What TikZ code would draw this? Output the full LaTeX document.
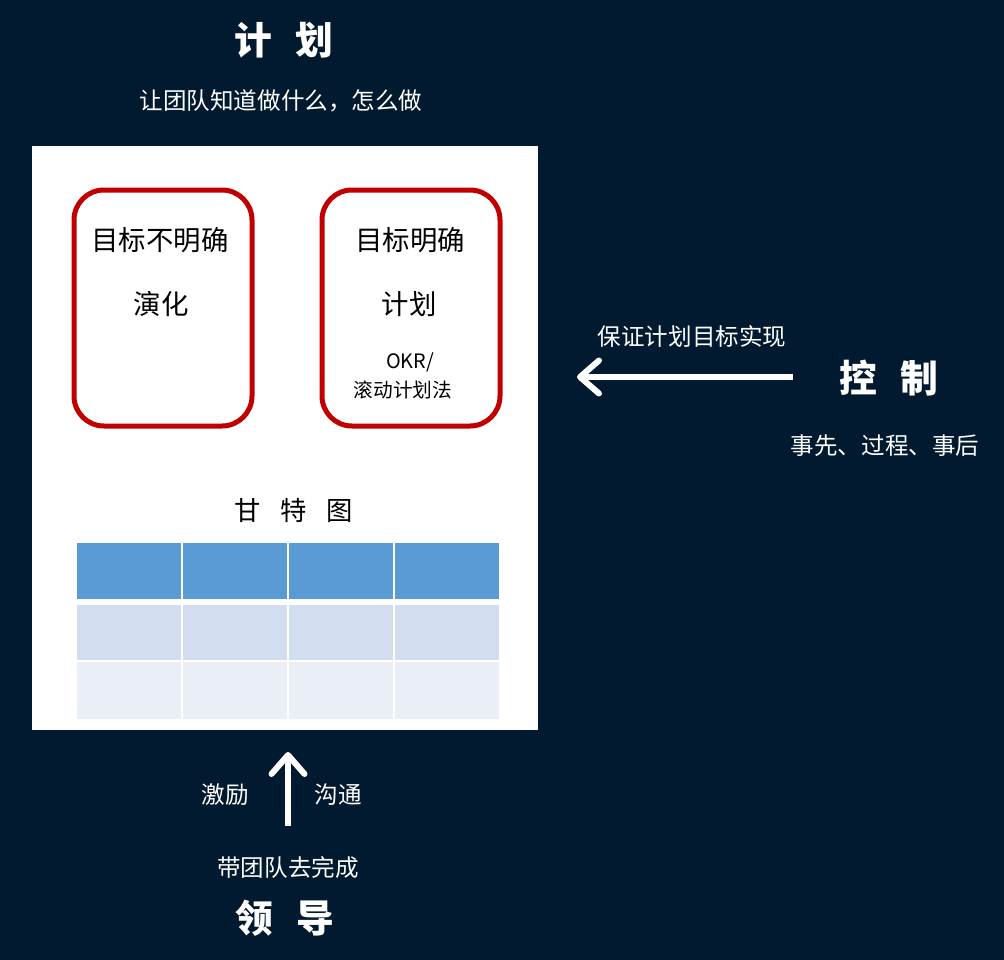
\documentclass[tikz,border=0pt]{standalone}
\usepackage{fontspec}
\setmainfont{Noto Sans CJK SC}
\usetikzlibrary{arrows.meta}
\definecolor{navy}{HTML}{021A30}
\definecolor{boxred}{HTML}{C00000}
\definecolor{ganttA}{HTML}{5B9BD5}
\definecolor{ganttB}{HTML}{D2DEEF}
\definecolor{ganttC}{HTML}{EAEFF7}
\tikzset{
  title/.style={text=white,font=\bfseries\fontsize{21.5}{24}\selectfont},
  note/.style={text=white,font=\fontsize{13.4}{16}\selectfont},
  boxtext/.style={text=black,font=\fontsize{15.6}{18}\selectfont},
  goalbox/.style={draw=boxred,line width=0.1cm,rounded corners=0.6cm},
  bigarrow/.style={draw=white,line width=0.12cm,-{Straight Barb[length=0.38cm,width=0.66cm,round]}}
}
\begin{document}
\begin{tikzpicture}[x=0.02cm,y=-0.02cm]
  \fill[navy] (0,0) rectangle (1004,960);
  \useasboundingbox (0,0) rectangle (1004,960);

  % plan
  \node[title] (plan) at (284,40) {计\hspace{0.6em}划};
  \node[note] (plansub) at (281,101) {让团队知道做什么，怎么做};
  \fill[white] (32,146) rectangle (538,730);

  \draw[goalbox] (74,190) rectangle (252,426);
  \draw[goalbox] (322,190) rectangle (500,426);
  \node[boxtext] (unclear) at (160,240) {目标不明确};
  \node[boxtext] (evolve) at (161,304) {演化};
  \node[boxtext] (clear) at (410,240) {目标明确};
  \node[boxtext] (plan2) at (409,304) {计划};
  \node[text=black,font=\fontsize{11.3}{13}\selectfont] (okr) at (410,362) {OKR/};
  \node[text=black,font=\fontsize{11.2}{13}\selectfont] (rolling) at (403,390) {滚动计划法};

  % gantt
  \node[boxtext,font=\fontsize{15}{18}\selectfont] (gantt) at (294,510) {甘\hspace{0.75em}特\hspace{0.75em}图};
  \foreach \c in {0,1,2,3} {
    \fill[ganttA] (77+106*\c,543) rectangle ++(104,56);
    \fill[ganttB] (77+106*\c,605) rectangle ++(104,55);
    \fill[ganttC] (77+106*\c,662) rectangle ++(104,57);
  }

  % control
  \node[title] (control) at (889,378) {控\hspace{0.6em}制};
  \node[note] (ctrlsub) at (885,446) {事先、过程、事后};
  \coordinate (ctrlstart) at (793,377);
  \coordinate (ctrlend) at (577,377);
  \draw[bigarrow] (ctrlstart) -- (ctrlend);
  \node[note] (ensure) at (692,337) {保证计划目标实现};

  % lead
  \coordinate (leadstart) at (288,826);
  \coordinate (leadend) at (288,752);
  \draw[bigarrow] (leadstart) -- (leadend);
  \node[note] (motivate) at (225,795) {激励};
  \node[note] (talk) at (338,795) {沟通};
  \node[note] (team) at (288,868) {带团队去完成};
  \node[title] (lead) at (285,918) {领\hspace{0.6em}导};
\end{tikzpicture}
\end{document}
